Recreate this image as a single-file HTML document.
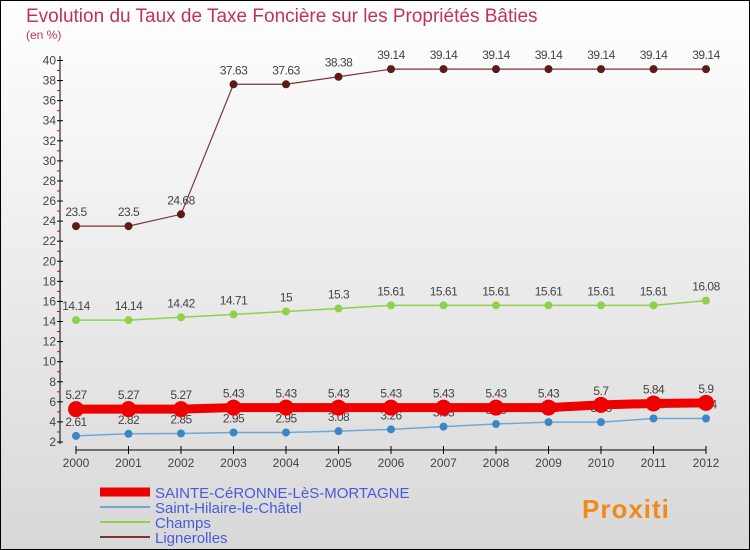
<!DOCTYPE html>
<html><head><meta charset="utf-8"><style>
body{margin:0}
#c{width:750px;height:550px;position:relative;background:linear-gradient(#fff,#d8d8d8);box-sizing:border-box;border:1px solid #000;font-family:"Liberation Sans",sans-serif;overflow:hidden}
</style></head><body>
<div id="c">
<svg id="s" width="750" height="550" style="position:absolute;left:-1px;top:-1px"></svg>
</div>
<script>
const years=[2000,2001,2002,2003,2004,2005,2006,2007,2008,2009,2010,2011,2012];
const sainte=[5.27,5.27,5.27,5.43,5.43,5.43,5.43,5.43,5.43,5.43,5.7,5.84,5.9];
const hilaire=[2.61,2.82,2.85,2.95,2.95,3.08,3.26,3.53,3.79,3.98,3.98,4.34,4.34];
const champs=[14.14,14.14,14.42,14.71,15,15.3,15.61,15.61,15.61,15.61,15.61,15.61,16.08];
const ligne=[23.5,23.5,24.68,37.63,37.63,38.38,39.14,39.14,39.14,39.14,39.14,39.14,39.14];
const yTicks=[2,4,6,8,10,12,14,16,18,20,22,24,26,28,30,32,34,36,38,40];
const NS="http://www.w3.org/2000/svg",s=document.getElementById('s');
const X=i=>76+i*52.5, Y=v=>442-(v-2)*10.04;
function el(t,a,p){const e=document.createElementNS(NS,t);for(const k in a)e.setAttribute(k,a[k]);(p||s).appendChild(e);return e;}
function tx(x,y,str,a){const e=el('text',Object.assign({x:x,y:y},a));e.textContent=str;return e;}
let t=tx(26,22,'Evolution du Taux de Taxe Foncière sur les Propriétés Bâties',{'font-size':19,fill:'#c0325a'});


t=tx(26,39,'(en %)',{'font-size':12,fill:'#c0325a'});


let ax=el('line',{x1:60,y1:56,x2:60,y2:444,stroke:'#000'});


ax=el('line',{x1:76,y1:450,x2:706,y2:450,stroke:'#000'});


yTicks.forEach((v,i)=>{el('line',{x1:57,x2:63,y1:Y(v),y2:Y(v),stroke:'#000'});
 if(i<yTicks.length-1)el('line',{x1:57,x2:60,y1:Y(v+1),y2:Y(v+1),stroke:'#e00'});
 const l=tx(56,Y(v)+4,String(v),{'font-size':12,fill:'#444','text-anchor':'end'});
 
 });
years.forEach((y,i)=>{el('line',{x1:X(i),x2:X(i),y1:446,y2:454,stroke:'#000'});
 const l=tx(X(i),467,String(y),{'font-size':12,fill:'#444','text-anchor':'middle'});
 
 });
function series(d,col,w,r,name,dot){
 const p=el('polyline',{points:d.map((v,i)=>X(i)+','+Y(v)).join(' '),fill:'none',stroke:col,'stroke-width':w});
 
 
 d.forEach((v,i)=>{const c=el('circle',{cx:X(i),cy:Y(v),r:r,fill:dot,stroke:'none'});
  
  
  const l=tx(X(i),Y(v)-10,String(v),{'font-size':12,fill:'#444','text-anchor':'middle','letter-spacing':'-0.5'});
  
  });
}
series(ligne,'#7a3535',1.2,4,'lignerolles','#5c1a1a');
series(champs,'#8fd24a',1.5,4,'champs','#8fd24a');
series(hilaire,'#6fa8d8',1.5,4,'saint-hilaire','#3b86c4');
series(sainte,'#ee0000',9,8,'sainte-ceronne','#ee0000');
const leg=[['SAINTE-CéRONNE-LèS-MORTAGNE','#ee0000',9],['Saint-Hilaire-le-Châtel','#6fa8d8',2],['Champs','#8fd24a',2],['Lignerolles','#7a3535',2]];
leg.forEach((l,i)=>{const y=492+i*15;
 const ln=el('line',{x1:100,x2:150,y1:y,y2:y,stroke:l[1],'stroke-width':l[2]});
 
 
 const t=tx(155,y+6,l[0],{'font-size':15,fill:'#4a5adc'});
 
 });
const lg=tx(582,518,'Proxiti',{'font-size':26,'font-weight':'bold',fill:'#f08a1c','letter-spacing':'1'});


</script>
</body></html>
